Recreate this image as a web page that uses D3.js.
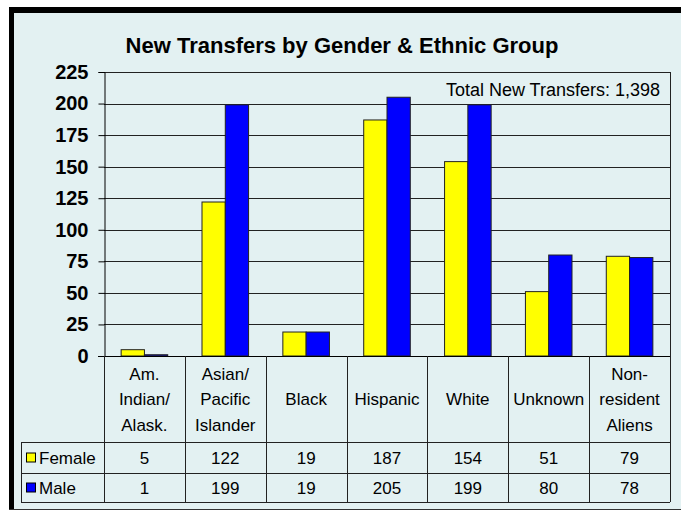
<!DOCTYPE html>
<html>
<head>
<meta charset="utf-8">
<script src="https://cdn.jsdelivr.net/npm/d3@7"></script>
<style>
  body { margin: 0; background: #fff; }
  svg text { font-family: "Liberation Sans", Arial, sans-serif; fill: #000; }
</style>
</head>
<body>
<div class="chart"></div>
<script>
var categories = [
  ['Am.', 'Indian/', 'Alask.'],
  ['Asian/', 'Pacific', 'Islander'],
  ['Black'],
  ['Hispanic'],
  ['White'],
  ['Unknown'],
  ['Non-', 'resident', 'Aliens']
];
var seriesNames = ['Female', 'Male'];
var female = [5, 122, 19, 187, 154, 51, 79];
var male = [1, 199, 19, 205, 199, 80, 78];
var yTicks = [0, 25, 50, 75, 100, 125, 150, 175, 200, 225];
var colors = ['#FFFF00', '#0000FF'];

var svgWidth = 681;
var svgHeight = 511;

var plotLeft = 104, plotRight = 670, plotTop = 72, zero = 356;
var headBottom = 442, row1Bottom = 473, row2Bottom = 502, tableLeft = 21;

var svg = d3.select('.chart')
  .append('svg')
  .attr('width', svgWidth)
  .attr('height', svgHeight);

// frame
svg.append('rect').attr('x', 9).attr('y', 7).attr('width', 672).attr('height', 502).attr('fill', '#E3F1F2');
svg.append('rect').attr('x', 9).attr('y', 7).attr('width', 5).attr('height', 502).attr('fill', '#000');
svg.append('rect').attr('x', 9).attr('y', 7).attr('width', 672).attr('height', 6).attr('fill', '#000');
svg.append('line').attr('x1', 9).attr('x2', 681).attr('y1', 509.5).attr('y2', 509.5).attr('stroke', '#333');

svg.append('text')
  .attr('x', 342)
  .attr('y', 53)
  .attr('text-anchor', 'middle')
  .style('font-size', '22px')
  .style('font-weight', 'bold')
  .text('New Transfers by Gender & Ethnic Group');

var idx = d3.range(categories.length);
var x = d3.scaleBand().domain(idx).range([plotLeft, plotRight]);
var x1 = d3.scaleBand().domain(seriesNames).range([0, x.bandwidth()]).paddingOuter(0.736);
var y = d3.scaleLinear().domain([0, 225]).range([zero, plotTop]);

// gridlines
svg.append('g').selectAll('line')
  .data(yTicks.filter(function(d) { return d > 0; }))
  .enter().append('line')
  .attr('x1', plotLeft).attr('x2', plotRight)
  .attr('y1', function(d) { return Math.round(y(d)) + 0.5; })
  .attr('y2', function(d) { return Math.round(y(d)) + 0.5; })
  .attr('stroke', '#222');

// right border of plot
svg.append('line')
  .attr('x1', plotRight + 0.5).attr('x2', plotRight + 0.5)
  .attr('y1', plotTop).attr('y2', row2Bottom)
  .attr('stroke', '#222');

// bars
var values = [female, male];
seriesNames.forEach(function(s, si) {
  svg.append('g').selectAll('rect')
    .data(values[si])
    .enter().append('rect')
    .attr('x', function(d, i) { return x(i) + x1(s); })
    .attr('y', function(d) { return y(d); })
    .attr('width', x1.bandwidth())
    .attr('height', function(d) { return zero - y(d); })
    .attr('fill', colors[si])
    .attr('stroke', '#222')
    .attr('stroke-width', 1);
});

// y axis
var yAxis = d3.axisLeft(y).tickValues(yTicks).tickSize(6).tickPadding(10);
var ga = svg.append('g')
  .attr('transform', 'translate(' + (plotLeft + 0.5) + ',0)')
  .call(yAxis);
ga.selectAll('line').attr('stroke', '#000');
ga.select('.domain').attr('stroke', '#000');
ga.selectAll('text')
  .style('font-size', '20px')
  .style('font-weight', 'bold')
  .style('font-family', '"Liberation Sans", Arial, sans-serif')
  .attr('fill', '#000');

// x axis line
svg.append('line')
  .attr('x1', plotLeft - 6).attr('x2', plotRight)
  .attr('y1', zero + 0.5).attr('y2', zero + 0.5)
  .attr('stroke', '#000');

// data table
var table = svg.append('g');
table.selectAll('.sep')
  .data(idx.concat([categories.length]))
  .enter().append('line')
  .attr('x1', function(d) { return Math.round(d < categories.length ? x(d) : plotRight) + 0.5; })
  .attr('x2', function(d) { return Math.round(d < categories.length ? x(d) : plotRight) + 0.5; })
  .attr('y1', zero).attr('y2', row2Bottom)
  .attr('stroke', '#222');

[headBottom, row1Bottom, row2Bottom].forEach(function(yy) {
  table.append('line')
    .attr('x1', tableLeft).attr('x2', plotRight)
    .attr('y1', yy + 0.5).attr('y2', yy + 0.5)
    .attr('stroke', '#222');
});
table.append('line')
  .attr('x1', tableLeft + 0.5).attr('x2', tableLeft + 0.5)
  .attr('y1', headBottom).attr('y2', row2Bottom)
  .attr('stroke', '#222');

// category headers
var lineH = 25.5;
idx.forEach(function(i) {
  var lines = categories[i];
  var cy = (zero + headBottom) / 2;
  var t = table.append('text')
    .attr('text-anchor', 'middle')
    .style('font-size', '17px');
  lines.forEach(function(l, li) {
    t.append('tspan')
      .attr('x', x(i) + x.bandwidth() / 2)
      .attr('y', cy + (li - (lines.length - 1) / 2) * lineH + 6)
      .text(l);
  });
});

// value rows
var rowMid = [(headBottom + row1Bottom) / 2, (row1Bottom + row2Bottom) / 2];
seriesNames.forEach(function(s, si) {
  table.selectAll('.v' + si)
    .data(values[si])
    .enter().append('text')
    .attr('x', function(d, i) { return x(i) + x.bandwidth() / 2; })
    .attr('y', rowMid[si] + 6)
    .attr('text-anchor', 'middle')
    .style('font-size', '17px')
    .text(function(d) { return d; });

  table.append('rect')
    .attr('x', 26.5).attr('y', rowMid[si] - 4.5)
    .attr('width', 9).attr('height', 9)
    .attr('fill', colors[si])
    .attr('stroke', '#000');
  table.append('text')
    .attr('x', 39).attr('y', rowMid[si] + 6)
    .style('font-size', '17px')
    .text(s);
});

svg.append('text')
  .attr('x', 660)
  .attr('y', 96)
  .attr('text-anchor', 'end')
  .style('font-size', '18px')
  .text('Total New Transfers: 1,398');
</script>
</body>
</html>
